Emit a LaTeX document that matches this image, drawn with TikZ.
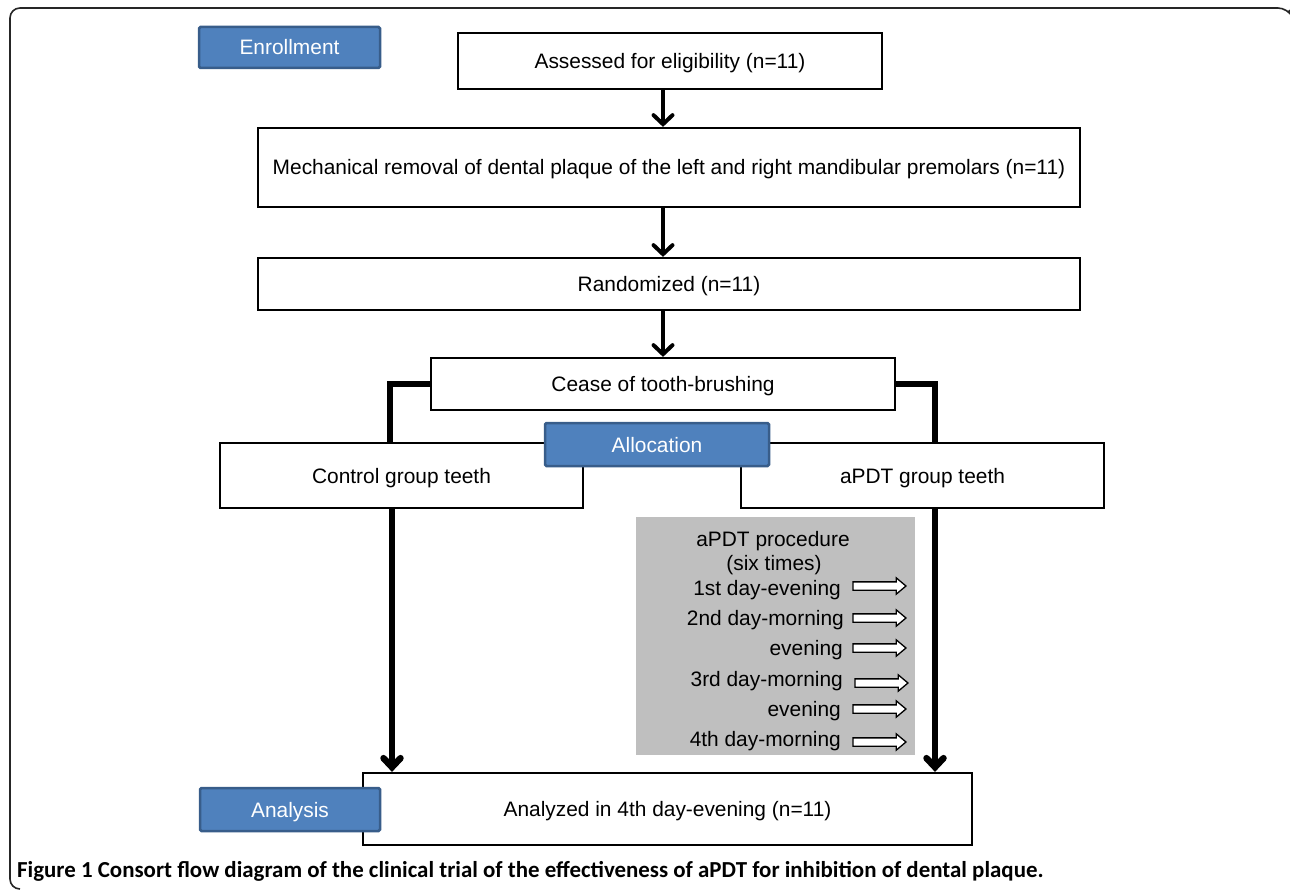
\documentclass[tikz,border=0pt]{standalone}
\usepackage{fontspec}
\setmainfont{Liberation Sans}
\newfontfamily\capfont{Carlito}
\usetikzlibrary{arrows.meta,shapes.arrows,calc}
\definecolor{bluefill}{RGB}{79,129,189}
\definecolor{blueline}{RGB}{56,93,138}
\definecolor{greyfill}{RGB}{191,191,191}
\begin{document}
\begin{tikzpicture}[x=1pt,y=-1pt,
  box/.style={draw=black,line width=2.2pt,fill=white,inner sep=0pt,text height=15pt,text depth=0pt,font=\fontsize{20.9}{24}\selectfont},
  bluebox/.style={draw=blueline,line width=2.5pt,fill=bluefill,text=white,rounded corners=1.5pt,inner sep=0pt,text height=15pt,text depth=0pt,font=\fontsize{20.9}{24}\selectfont},
  thinarr/.style={line width=4pt,-{Straight Barb[length=9pt,width=19pt,line cap=round]}},
  thickline/.style={line width=6.5pt},
  thickarr/.style={line width=6.5pt,-{Straight Barb[length=9pt,width=17pt,line cap=round]}},
  proc/.style={font=\fontsize{20.9}{24}\selectfont,inner sep=0pt,text height=15pt,text depth=0pt},
  hollow/.style={single arrow,draw=black,line width=1.3pt,fill=white,minimum height=53pt,minimum width=15pt,single arrow head extend=4pt,single arrow tip angle=80,inner sep=3.5pt}
]
\useasboundingbox (0,0) rectangle (1290,890);
% outer frame
\draw[line width=1.6pt,black!85,rounded corners=10pt] (1289,10) -- (1288,8) -- (10,8) -- (10,889) -- (20,889);

% boxes
\node[box,minimum width=424pt,minimum height=56pt] (assess) at (670,61) {Assessed for eligibility (n=11)};
\node[box,minimum width=822pt,minimum height=79pt] (mech) at (669,167.5) {Mechanical removal of dental plaque of the left and right mandibular premolars (n=11)};
\node[box,minimum width=822pt,minimum height=52pt] (rand) at (669,284) {Randomized (n=11)};
\node[box,minimum width=464pt,minimum height=52pt] (cease) at (663,384) {Cease of tooth-brushing};
\node[box,minimum width=363pt,minimum height=65pt] (ctrl) at (401.5,475.5) {Control group teeth};
\node[box,minimum width=363pt,minimum height=65pt] (apdt) at (922.5,475.5) {aPDT group teeth};
\node[box,minimum width=609pt,minimum height=72pt] (ana) at (667.5,809) {Analyzed in 4th day-evening (n=11)};

% grey procedure box
\node[fill=greyfill,minimum width=279pt,minimum height=238pt,inner sep=0pt] (grey) at (775.5,636) {};
\node[proc] (p0) at (773,539) {aPDT procedure};
\node[proc] (p1) at (774,563) {(six times)};
\node[proc,anchor=east] (d1) at (841,588) {1st day-evening};
\node[proc,anchor=east] (d2) at (844,618) {2nd day-morning};
\node[proc,anchor=east] (d3) at (843,648) {evening};
\node[proc,anchor=east] (d4) at (843,679) {3rd day-morning};
\node[proc,anchor=east] (d5) at (841,709) {evening};
\node[proc,anchor=east] (d6) at (841,739) {4th day-morning};
\node[hollow] (a1) at (877,586) {};
\node[hollow] (a2) at (877,618) {};
\node[hollow] (a3) at (877,648) {};
\node[hollow] (a4) at (879,683) {};
\node[hollow] (a5) at (877,709) {};
\node[hollow] (a6) at (877,742) {};

% connectors
\draw[thinarr] ([xshift=-7pt]assess.south) -- ([xshift=-7pt]assess.south |- mech.north);
\draw[thinarr] ([xshift=-6pt]mech.south) -- ([xshift=-6pt]mech.south |- rand.north);
\draw[thinarr] (rand.south -| cease.north) -- (cease.north);
\draw[thickline] (cease.west) -| ([xshift=-11.5pt]ctrl.north);
\draw[thickline] (cease.east) -| ([xshift=12.5pt]apdt.north);
\draw[thickarr] ([xshift=-9.5pt]ctrl.south) -- ([xshift=-9.5pt]ctrl.south |- ana.north);
\draw[thickarr] ([xshift=12.5pt]apdt.south) -- ([xshift=12.5pt]apdt.south |- ana.north);

% blue labels
\node[bluebox,minimum width=181pt,minimum height=41pt] (enr) at (289.5,47.5) {Enrollment};
\node[bluebox,minimum width=224pt,minimum height=43pt] (alloc) at (657,444.5) {Allocation};
\node[bluebox,minimum width=180pt,minimum height=43pt] (anl) at (290,809.5) {Analysis};

% caption
\node[anchor=west,inner sep=0pt,text height=14pt,text depth=0pt,font=\capfont\bfseries\fontsize{22.9}{26}\selectfont] (cap) at (17,870) {Figure 1 Consort flow diagram of the clinical trial of the effectiveness of aPDT for inhibition of dental plaque.};
\end{tikzpicture}
\end{document}
